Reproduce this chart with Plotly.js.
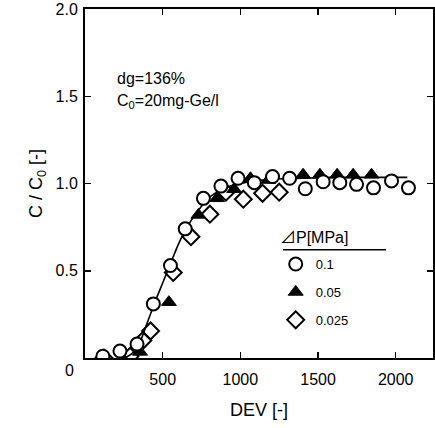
<!DOCTYPE html>
<html>
<head>
<meta charset="utf-8">
<script src="https://cdn.plot.ly/plotly-3.0.1.min.js"></script>
<style>html,body{margin:0;padding:0;background:#fff;}#chart{width:435px;height:428px;}</style>
</head>
<body>
<div id="chart"></div>
<script>
// Data
const dev01 = [115, 225, 335, 440, 550, 645, 762, 875, 985, 1090, 1207, 1317, 1418, 1533, 1640, 1748, 1857, 1973, 2082];
const c01   = [0.01, 0.04, 0.08, 0.31, 0.53, 0.74, 0.915, 0.985, 1.03, 1.005, 1.04, 1.03, 0.97, 1.01, 1.005, 0.995, 0.975, 1.015, 0.975];

const dev005 = [240, 354, 540, 730, 850, 960, 1065, 1180, 1404, 1512, 1623, 1726, 1844];
const c005   = [0.0, 0.035, 0.32, 0.82, 0.915, 0.967, 1.03, 1.02, 1.05, 1.05, 1.05, 1.05, 1.05];

const dev0025 = [122, 290, 372, 422, 568, 682, 804, 907, 1019, 1143, 1250];
const c0025   = [0.0, 0.01, 0.10, 0.155, 0.49, 0.695, 0.824, 0.95, 0.91, 0.944, 0.95];

const devFit = [110, 250, 330, 400, 450, 500, 550, 600, 650, 700, 750, 800, 850, 900, 1000, 1100, 1200, 1400, 1600, 1800, 2075];
const cFit   = [0.0, 0.0, 0.05, 0.2, 0.32, 0.43, 0.54, 0.65, 0.74, 0.81, 0.87, 0.92, 0.95, 0.975, 1.0, 1.015, 1.025, 1.03, 1.035, 1.035, 1.035];

const xTickVals = [500, 1000, 1500, 2000];
const xTickText = ['500', '1000', '1500', '2000'];
const yTickVals = [0.5, 1.0, 1.5, 2.0];
const yTickText = ['0.5', '1.0', '1.5', '2.0'];
const legendTitle = '⊿P[MPa]';

const FONT = 'Arial, "Liberation Sans", "Noto Sans CJK JP", sans-serif';

const traces = [
  {x: devFit, y: cFit, mode: 'lines', line: {color: '#000', width: 1.6, shape: 'spline', smoothing: 0.8}, showlegend: false, hoverinfo: 'skip'},
  {x: dev0025, y: c0025, mode: 'markers', name: '0.025', legendgroup: 'c', legendrank: 3,
   marker: {symbol: 'diamond-open', size: 13, color: '#000', line: {width: 2, color: '#000'}}},
  {x: dev005, y: c005, mode: 'markers', name: '0.05', legendgroup: 'b', legendrank: 2,
   marker: {symbol: 'triangle-up', size: 13, color: '#000', line: {width: 1, color: '#000'}}},
  {x: dev01, y: c01, mode: 'markers', name: '0.1', legendgroup: 'a', legendrank: 1,
   marker: {symbol: 'circle', size: 13, color: '#fff', line: {width: 2, color: '#000'}}}
];

const layout = {
  width: 435, height: 428,
  margin: {l: 85, r: 2, t: 9, b: 70},
  paper_bgcolor: '#fff', plot_bgcolor: '#fff',
  font: {family: FONT, color: '#000', size: 15},
  xaxis: {
    range: [0, 2240], showgrid: false, zeroline: false,
    showline: true, linecolor: '#000', linewidth: 2, mirror: 'ticks',
    ticks: 'inside', ticklen: 6, tickwidth: 1.5, tickcolor: '#000',
    tickvals: xTickVals, ticktext: xTickText, ticklabelstandoff: 6,
    tickfont: {size: 16, family: FONT, color: '#000'},
    title: {text: 'DEV [-]', font: {size: 18, family: FONT, color: '#000'}, standoff: 16}
  },
  yaxis: {
    range: [0, 2.0], showgrid: false, zeroline: false,
    showline: true, linecolor: '#000', linewidth: 2, mirror: 'ticks',
    ticks: 'inside', ticklen: 6, tickwidth: 1.5, tickcolor: '#000',
    tickvals: yTickVals, ticktext: yTickText, ticklabelstandoff: 2,
    tickfont: {size: 16, family: FONT, color: '#000'},
    title: {text: 'C / C<sub>0</sub> [-]', font: {size: 18, family: FONT, color: '#000'}, standoff: 8}
  },
  showlegend: true,
  legend: {
    x: 0.548, y: 0.312, xanchor: 'left', yanchor: 'top',
    bgcolor: 'rgba(0,0,0,0)', borderwidth: 0,
    tracegroupgap: 8, traceorder: 'grouped',
    font: {size: 13, family: FONT, color: '#000'}
  },
  shapes: [
    {type: 'line', xref: 'paper', yref: 'paper', x0: 0.569, x1: 0.865, y0: 0.31, y1: 0.31, line: {color: '#000', width: 1.5}}
  ],
  annotations: [
    {text: legendTitle, xref: 'paper', yref: 'paper', x: 0.658, y: 0.346, xanchor: 'center', yanchor: 'middle', showarrow: false, font: {size: 16, family: FONT, color: '#000'}},
    {text: 'dg=136%', xref: 'paper', yref: 'paper', x: 0.085, y: 0.80, xanchor: 'left', yanchor: 'middle', showarrow: false, font: {size: 16, family: FONT, color: '#000'}},
    {text: 'C<sub>0</sub>=20mg-Ge/l', xref: 'paper', yref: 'paper', x: 0.085, y: 0.735, xanchor: 'left', yanchor: 'middle', showarrow: false, font: {size: 16, family: FONT, color: '#000'}},
    {text: '0', xref: 'paper', yref: 'paper', x: -0.025, y: -0.035, xanchor: 'right', yanchor: 'middle', showarrow: false, font: {size: 16, family: FONT, color: '#000'}}
  ]
};

Plotly.newPlot('chart', traces, layout, {displayModeBar: false, staticPlot: true});
</script>
</body>
</html>
